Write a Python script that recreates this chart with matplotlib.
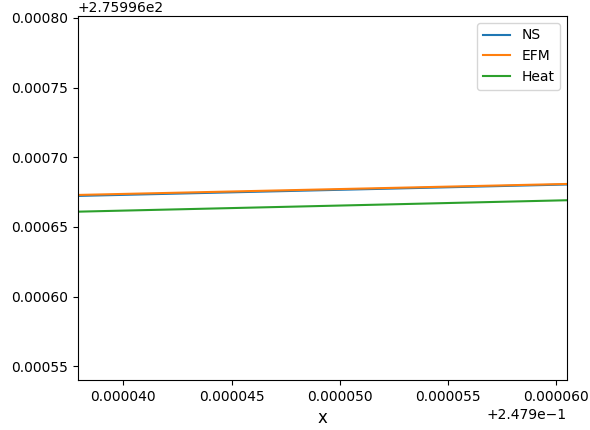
import numpy as np
import matplotlib
matplotlib.use("Agg")
import matplotlib.pyplot as plt

# end points of each solution over the zoomed window
x = np.array([0.2479379, 0.2479605])
ns = np.array([275.9966722, 275.9966804])
efm = np.array([275.9966729, 275.9966808])
heat = np.array([275.9966609, 275.9966691])

fig, ax = plt.subplots(figsize=(5.9, 4.3), dpi=100)
fig.subplots_adjust(left=0.132, right=0.961, top=0.963, bottom=0.116)

ax.plot(x, ns, label="NS")
ax.plot(x, efm, label="EFM")
ax.plot(x, heat, label="Heat")

ax.set_xlim(0.2479379, 0.2479605)
ax.set_ylim(275.99654, 275.9968014)
ax.ticklabel_format(axis="y", style="plain", useOffset=275.996)
ax.ticklabel_format(axis="x", style="plain", useOffset=0.2479)
ax.set_xlabel("x", fontsize=12)
ax.legend(loc="upper right")

fig.savefig("out.png")
